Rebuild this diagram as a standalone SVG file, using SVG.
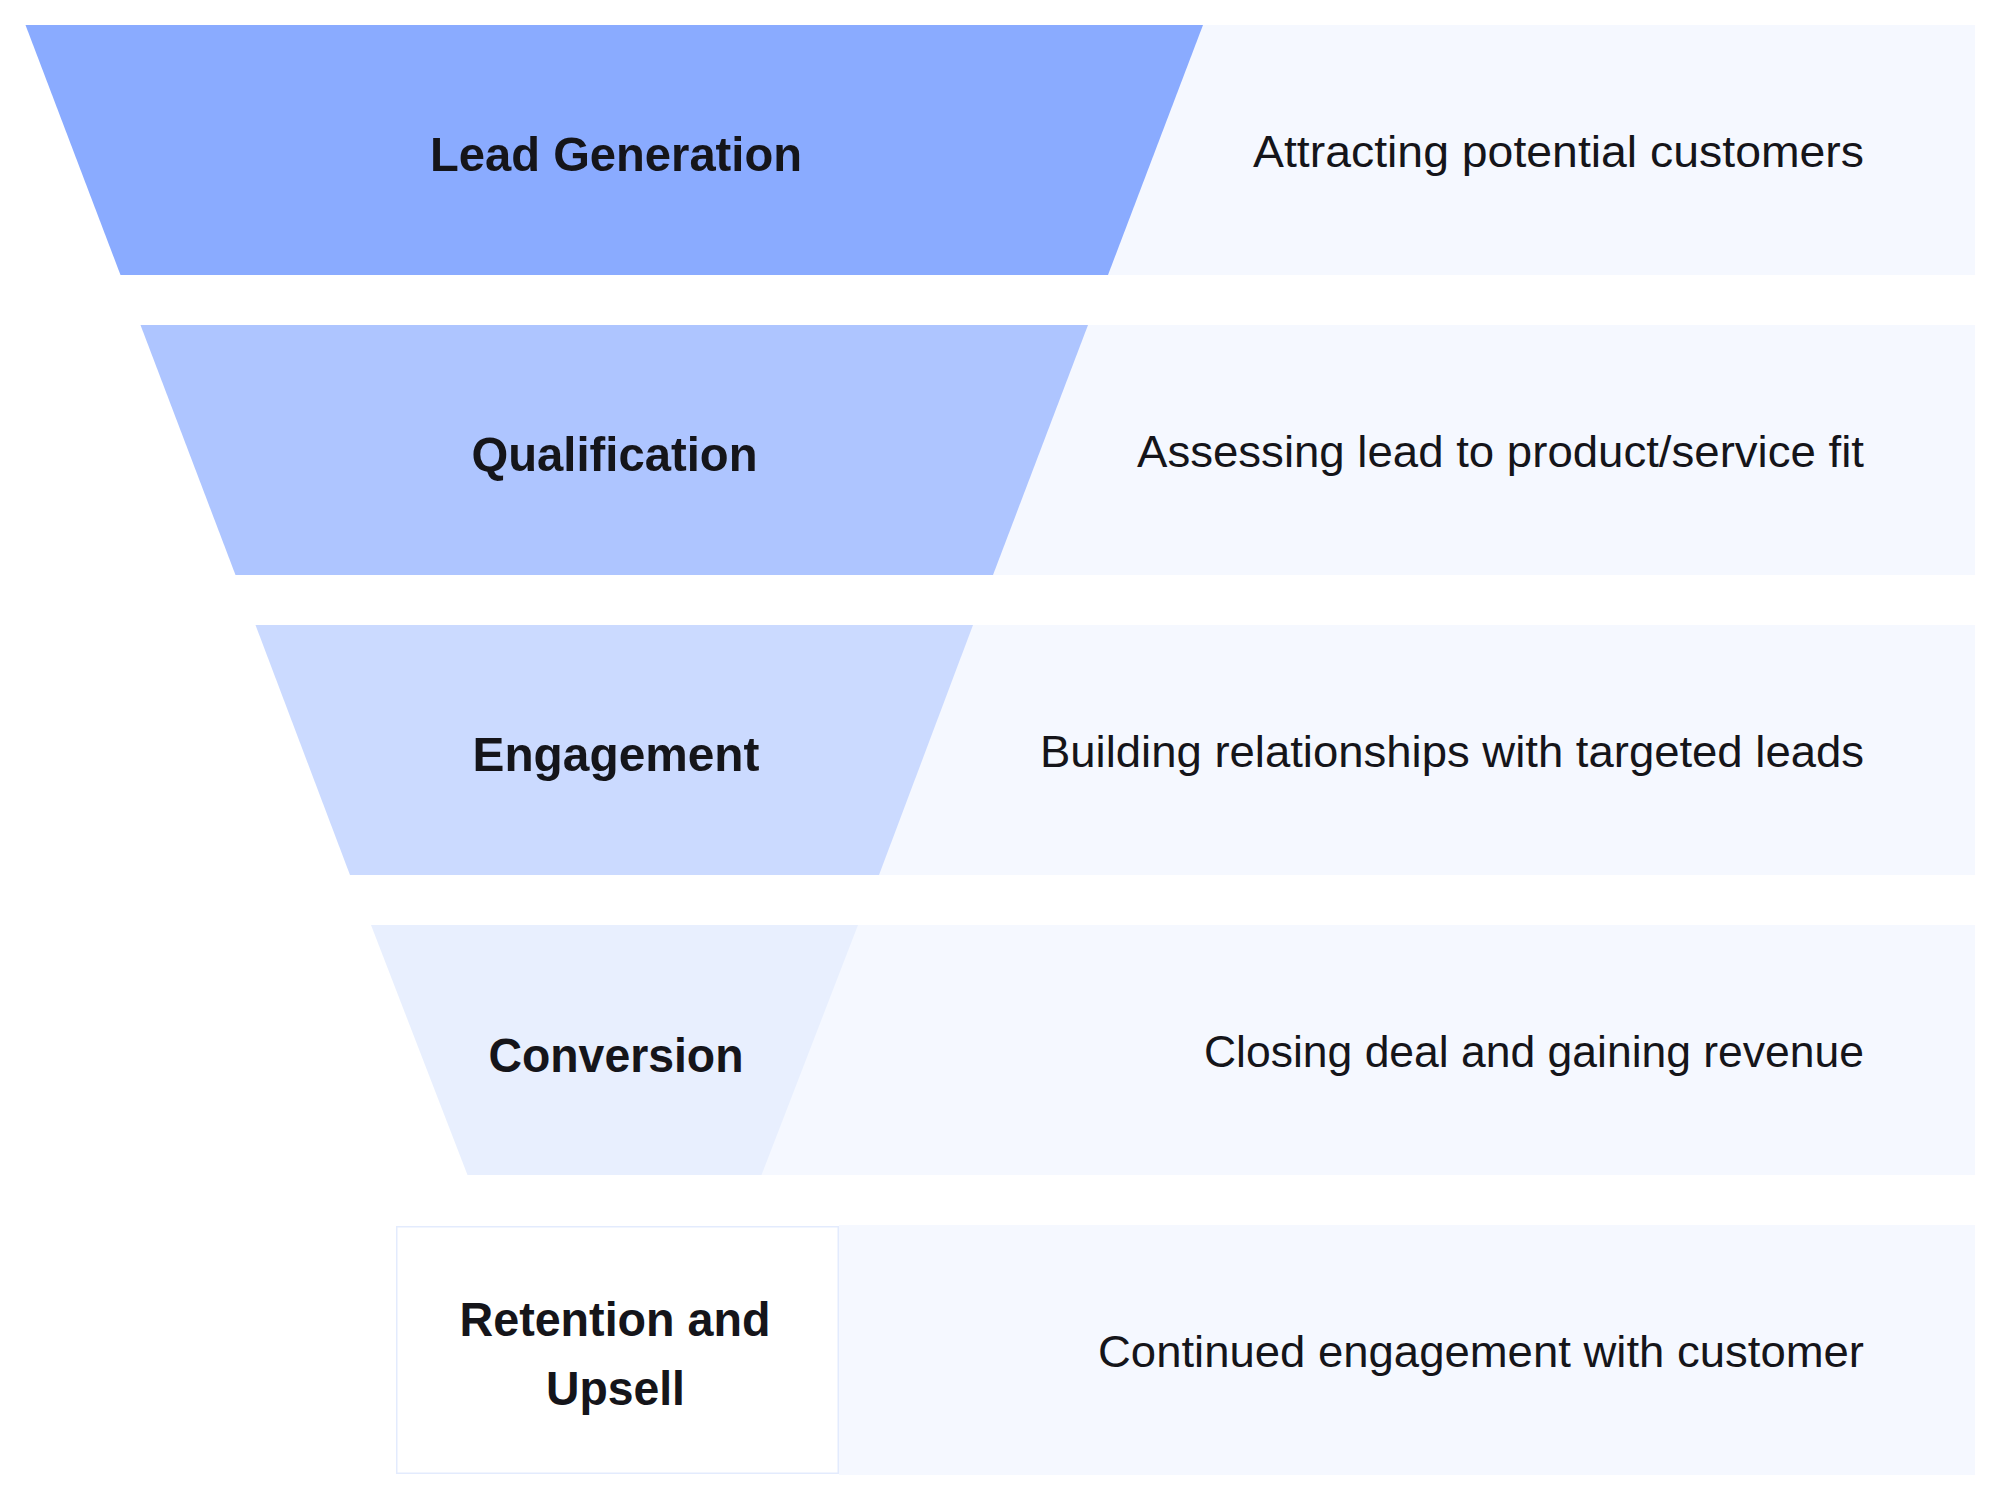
<svg xmlns="http://www.w3.org/2000/svg" width="2000" height="1500" viewBox="0 0 2000 1500">
<style>
.panel{fill:#F5F8FF;}
.lbl{font-family:"Liberation Sans",Arial,sans-serif;font-weight:700;font-size:49px;fill:#15151A;text-anchor:middle;}
.desc{font-family:"Liberation Sans",Arial,sans-serif;font-weight:400;font-size:45px;fill:#15151A;text-anchor:end;}
</style>
<rect x="0" y="0" width="2000" height="1500" fill="#FFFFFF"/>
<g id="stage-lead-generation">
<rect class="panel" x="1100" y="25" width="875" height="250"/>
<polygon points="25.5,25 1203,25 1108,275 120.5,275" fill="#8AABFF"/>
<text class="lbl" x="616" y="171" textLength="372" lengthAdjust="spacingAndGlyphs">Lead Generation</text>
<text class="desc" x="1864" y="167" textLength="611" lengthAdjust="spacingAndGlyphs">Attracting potential customers</text>
</g>
<g id="stage-qualification">
<rect class="panel" x="985" y="325" width="990" height="250"/>
<polygon points="140.5,325 1088,325 993,575 235.5,575" fill="#AEC5FF"/>
<text class="lbl" x="614.5" y="471" textLength="286" lengthAdjust="spacingAndGlyphs">Qualification</text>
<text class="desc" x="1864" y="467" textLength="727" lengthAdjust="spacingAndGlyphs">Assessing lead to product/service fit</text>
</g>
<g id="stage-engagement">
<rect class="panel" x="870" y="625" width="1105" height="250"/>
<polygon points="255.5,625 973,625 879,875 350,875" fill="#CBDAFF"/>
<text class="lbl" x="616" y="771" textLength="287" lengthAdjust="spacingAndGlyphs">Engagement</text>
<text class="desc" x="1864" y="767" textLength="824" lengthAdjust="spacingAndGlyphs">Building relationships with targeted leads</text>
</g>
<g id="stage-conversion">
<rect class="panel" x="755" y="925" width="1220" height="250"/>
<polygon points="371,925 858,925 761.5,1175 467.5,1175" fill="#E8EFFE"/>
<text class="lbl" x="616" y="1071.5" textLength="255" lengthAdjust="spacingAndGlyphs">Conversion</text>
<text class="desc" x="1864" y="1067" textLength="660" lengthAdjust="spacingAndGlyphs">Closing deal and gaining revenue</text>
</g>
<g id="stage-retention">
<rect class="panel" x="839" y="1225" width="1136" height="250"/>
<rect x="396.75" y="1226.75" width="441.5" height="246.5" fill="#FFFFFF" stroke="#E3EBFD" stroke-width="1.5"/>
<text class="lbl" x="615" y="1335.5" textLength="311" lengthAdjust="spacingAndGlyphs">Retention and</text>
<text class="lbl" x="615.5" y="1405" textLength="139" lengthAdjust="spacingAndGlyphs">Upsell</text>
<text class="desc" x="1864" y="1367" textLength="766" lengthAdjust="spacingAndGlyphs">Continued engagement with customer</text>
</g>
<g id="connectors"></g>
</svg>
